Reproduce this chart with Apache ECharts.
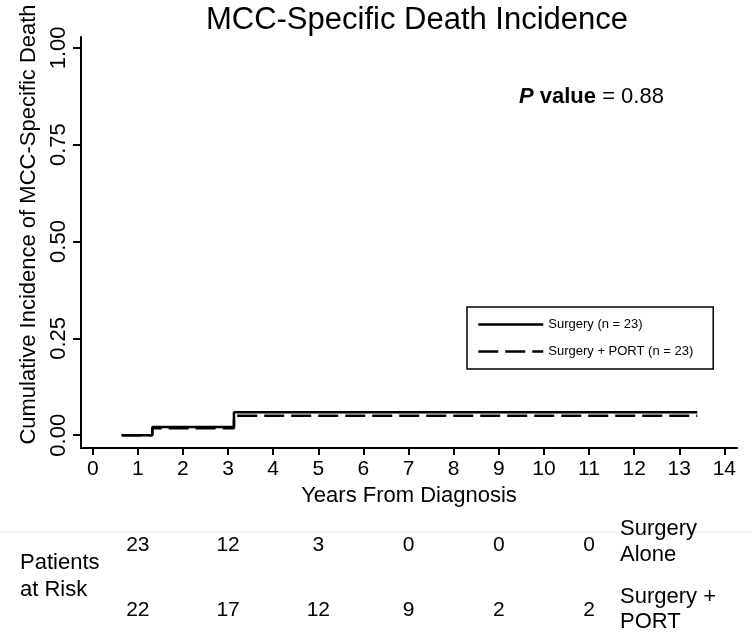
<!DOCTYPE html>
<html>
<head>
<meta charset="utf-8">
<script src="https://cdn.jsdelivr.net/npm/echarts@6/dist/echarts.min.js"></script>
<style>
html,body{margin:0;padding:0;background:#fff;}
#c{width:751px;height:633px;}
</style>
</head>
<body>
<div id="c"></div>
<script>
// ---- data ----
var xTicks = [0,1,2,3,4,5,6,7,8,9,10,11,12,13,14];
var yTicks = [0, 0.25, 0.5, 0.75, 1];
var surgeryCurve = [[0.64, 0], [1.32, 0.021], [3.13, 0.059], [13.4, 0.059]];
var portCurve = [[0.64, 0], [1.32, 0.018], [3.13, 0.050], [13.4, 0.050]];
var riskTimes = [1, 3, 5, 7, 9, 11];
var riskSurgery = [23, 12, 3, 0, 0, 0];
var riskPort = [22, 17, 12, 9, 2, 2];
var seriesNames = ['Surgery (n = 23)', 'Surgery + PORT (n = 23)'];
var riskRowLabels = ['Surgery\nAlone', 'Surgery +\nPORT'];

var FONT = '"Liberation Sans", Arial, Helvetica, sans-serif';
var chart = echarts.init(document.getElementById('c'));

function riskAxis(position, counts) {
  return {
    type: 'value', gridIndex: 1, min: -0.26, max: 14.28, position: position,
    axisLine: { show: false }, axisTick: { show: false }, splitLine: { show: false },
    axisLabel: {
      customValues: riskTimes, margin: 0, verticalAlign: 'middle',
      fontFamily: FONT, fontSize: 21, color: '#000',
      formatter: function (v) {
        var i = riskTimes.indexOf(Math.round(v));
        return i >= 0 ? String(counts[i]) : '';
      }
    }
  };
}

chart.setOption({
  animation: false,
  backgroundColor: '#fff',
  textStyle: { fontFamily: FONT, color: '#000' },
  title: {
    text: 'MCC-Specific Death Incidence',
    left: 412, top: 0, textAlign: 'center',
    textStyle: { fontFamily: FONT, fontSize: 31, fontWeight: 'normal', color: '#000' }
  },
  legend: {
    orient: 'vertical',
    left: 467, top: 307,
    padding: [11, 20, 11, 10],
    itemGap: 14,
    itemWidth: 65, itemHeight: 14,
    borderColor: '#000', borderWidth: 1.5,
    data: [seriesNames[0], seriesNames[1]],
    itemStyle: { opacity: 0 },
    lineStyle: { width: 2.5 },
    textStyle: { fontFamily: FONT, fontSize: 13, color: '#000', padding: [0, 0, 0, 0] }
  },
  grid: [
    { left: 81, right: 14, top: 37, bottom: 185 },
    { left: 81, right: 14, top: 545, height: 65 }
  ],
  xAxis: [
    {
      type: 'value', gridIndex: 0, min: -0.26, max: 14.28,
      name: 'Years From Diagnosis', nameLocation: 'middle', nameGap: 35,
      nameTextStyle: { fontFamily: FONT, fontSize: 22, color: '#000' },
      axisLine: { show: true, onZero: false, lineStyle: { color: '#000', width: 2 } },
      axisTick: { show: true, customValues: xTicks, length: 7, lineStyle: { color: '#000', width: 2 } },
      axisLabel: { customValues: xTicks, fontFamily: FONT, fontSize: 21, color: '#000', margin: 11 },
      splitLine: { show: false }
    },
    riskAxis('top', riskSurgery),
    riskAxis('bottom', riskPort)
  ],
  yAxis: [
    {
      type: 'value', gridIndex: 0, min: -0.033, max: 1.028,
      name: 'Cumulative Incidence of MCC-Specific Death', nameLocation: 'middle', nameGap: 33,
      nameTextStyle: { fontFamily: FONT, fontSize: 22, color: '#000', padding: [0, 0, 0, 36] },
      axisLine: { show: true, onZero: false, lineStyle: { color: '#000', width: 2 } },
      axisTick: { show: true, customValues: yTicks, length: 8, lineStyle: { color: '#000', width: 2 } },
      axisLabel: {
        customValues: yTicks, rotate: 90, margin: 11,
        fontFamily: FONT, fontSize: 22, color: '#000',
        formatter: function (v) { return v.toFixed(2); }
      },
      splitLine: { show: false }
    },
    {
      type: 'value', gridIndex: 1, min: 0, max: 1, show: false
    }
  ],
  series: [
    {
      name: seriesNames[1], type: 'line', step: 'end', data: portCurve,
      symbol: 'none', xAxisIndex: 0, yAxisIndex: 0,
      lineStyle: { color: '#000', width: 2.5, type: [20, 7] },
      itemStyle: { color: '#000' }
    },
    {
      name: seriesNames[0], type: 'line', step: 'end', data: surgeryCurve,
      symbol: 'none', xAxisIndex: 0, yAxisIndex: 0,
      lineStyle: { color: '#000', width: 2.5, type: 'solid' },
      itemStyle: { color: '#000' }
    }
  ],
  graphic: [
    {
      type: 'line', shape: { x1: 0, y1: 532, x2: 751, y2: 532 },
      style: { stroke: '#ececec', lineWidth: 1 }, silent: true
    },
    {
      type: 'text', left: 519, top: 86,
      style: {
        text: '{p|P}{b| value}{n| = 0.88}',
        rich: {
          p: { fontFamily: FONT, fontSize: 22, fontWeight: 'bold', fontStyle: 'italic', fill: '#000' },
          b: { fontFamily: FONT, fontSize: 22, fontWeight: 'bold', fill: '#000' },
          n: { fontFamily: FONT, fontSize: 22, fill: '#000' }
        }
      }
    },
    {
      type: 'text', left: 20, top: 549,
      style: { text: 'Patients\nat Risk', fontFamily: FONT, fontSize: 22, lineHeight: 27, fill: '#000' }
    },
    {
      type: 'text', left: 620, top: 516,
      style: { text: riskRowLabels[0], fontFamily: FONT, fontSize: 22, lineHeight: 26, fill: '#000' }
    },
    {
      type: 'text', left: 620, top: 584,
      style: { text: riskRowLabels[1], fontFamily: FONT, fontSize: 22, lineHeight: 25, fill: '#000' }
    }
  ]
});
</script>
</body>
</html>
